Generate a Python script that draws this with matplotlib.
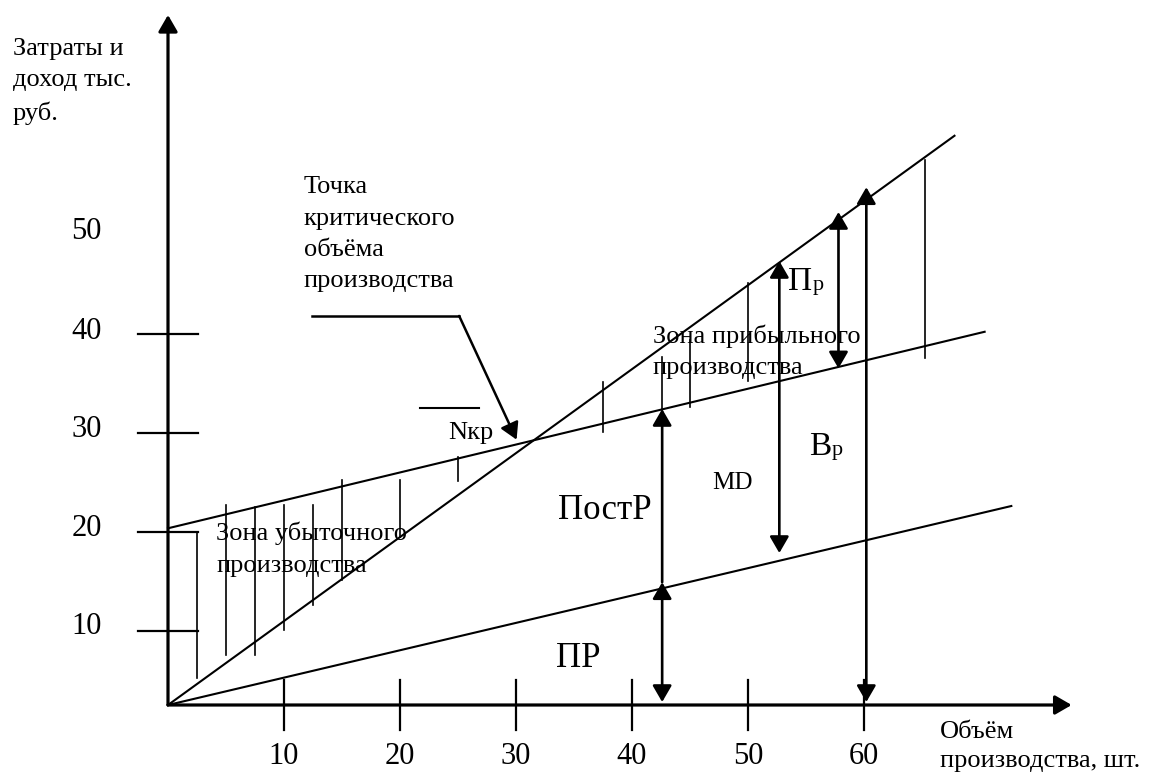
"""
Точка безубыточности: выручка, постоянные и переменные затраты
"""

import matplotlib
matplotlib.use('Agg')
from matplotlib import pyplot as plt

plt.rcParams['font.family'] = ['Liberation Serif', 'DejaVu Serif']

# --- данные (условные единицы: x - объём, шт.; y - тыс. руб.) ---
# выручка, полные затраты, переменные затраты
rev_x = [0, 67.8]
rev_y = [0, 57.5]
tc_x = [0, 70.4]
tc_y = [17.85, 37.7]
vc_x = [0, 72.7]
vc_y = [0, 20.1]

# деления осей
x_ticks = [10, 20, 30, 40, 50, 60]
x_tick_labels = ['10', '20', '30', '40', '50', '60']
y_ticks = [7.5, 17.5, 27.5, 37.5]
y_label_pos = [7.9, 17.85, 27.8, 37.7, 47.8]
y_tick_labels = ['10', '20', '30', '40', '50']

# штриховка зоны убытков (x, низ, верх)
loss_x = [2.5, 5, 7.5, 10, 12.5, 15, 20, 25]
loss_lo = [2.7, 5.05, 5.05, 7.6, 10.1, 12.6, 17.0, 22.6]
loss_hi = [17.5, 20.2, 20.0, 20.2, 20.2, 22.7, 22.7, 25.1]

# штриховка зоны прибыли
prof_x = [37.5, 42.6, 45, 50, 65.3]
prof_lo = [27.6, 29.8, 30.1, 32.7, 35.0]
prof_hi = [32.66, 35.2, 36.9, 42.6, 55.05]

# стрелки: ПР, ПостР, Пр/MD, Вр, выручка
pr_x, pr_y = 42.6, [0.3, 12.4]
post_x, post_y = 42.6, [12.4, 29.9]
md_x, md_y = 52.7, [15.35, 44.85]
vr_x, vr_y = 57.8, [34.0, 49.8]
tot_x, tot_y = 60.2, [0.3, 52.3]

# точка критического объёма (выноска)
lead_x = [12.4, 25.1, 30.05]
lead_y = [39.3, 39.3, 26.8]

fig = plt.figure(figsize=(11.49, 7.73), dpi=100)
ax = fig.add_axes([0, 0, 1, 1])
ax.set_xlim(-168 / 11.6, (1149 - 168) / 11.6)
ax.set_ylim((705 - 773) / 9.9, 705 / 9.9)
ax.axis('off')

def arrow(x0, y0, x1, y1, style='-|>', lw=1.9):
    ax.annotate('', xy=(x1, y1), xytext=(x0, y0),
                arrowprops=dict(arrowstyle=style + ',head_length=1.0,head_width=0.58',
                                mutation_scale=10, lw=lw, color='black',
                                shrinkA=0, shrinkB=0))

# оси
arrow(0, 0, 0, 69.7, lw=2.3)
arrow(0, 0, 77.9, 0, lw=2.3)
for t in x_ticks:
    ax.plot([t, t], [-2.5, 2.5], color='black', lw=1.6)
for t, lab in zip(x_ticks, x_tick_labels):
    ax.text(t, -5.22, lab, ha='center', va='center', fontsize=22)
for t in y_ticks:
    ax.plot([-2.6, 2.56], [t, t], color='black', lw=1.6)
for p, lab in zip(y_label_pos, y_tick_labels):
    ax.text(-7.0, p, lab, ha='center', va='center', fontsize=22)

# линии
ax.plot(rev_x, rev_y, color='black', lw=1.5)
ax.plot(tc_x, tc_y, color='black', lw=1.5)
ax.plot(vc_x, vc_y, color='black', lw=1.5)

# штриховка
for x, lo, hi in zip(loss_x, loss_lo, loss_hi):
    ax.plot([x, x], [lo, hi], color='black', lw=1.2)
for x, lo, hi in zip(prof_x, prof_lo, prof_hi):
    ax.plot([x, x], [lo, hi], color='black', lw=1.2)

# стрелки показателей
arrow(pr_x, pr_y[0], pr_x, pr_y[1], '<|-|>')
arrow(post_x, post_y[0], post_x, post_y[1])
arrow(md_x, md_y[0], md_x, md_y[1], '<|-|>')
arrow(vr_x, vr_y[0], vr_x, vr_y[1], '<|-|>')
arrow(tot_x, tot_y[0], tot_x, tot_y[1], '<|-|>')

# выноска
ax.plot(lead_x[:2], lead_y[:2], color='black', lw=1.8)
arrow(lead_x[1], lead_y[1], lead_x[2], lead_y[2], lw=1.8)
ax.plot([21.7, 26.8], [29.95, 29.95], color='black', lw=1.5)

# подписи
ax.text(-13.4, 67.4, 'Затраты и\nдоход тыс.\nруб.', ha='left', va='top',
        fontsize=19, linespacing=1.55)
ax.text(11.7, 53.4, 'Точка\nкритического\nобъёма\nпроизводства', ha='left',
        va='top', fontsize=19, linespacing=1.55)
ax.text(4.14, 18.5, 'Зона убыточного\nпроизводства', ha='left', va='top',
        fontsize=19, linespacing=1.55)
ax.text(41.8, 38.4, 'Зона прибыльного\nпроизводства', ha='left', va='top',
        fontsize=19, linespacing=1.5)
ax.text(26.1, 27.5, 'Nкр', ha='center', va='center', fontsize=19)
ax.text(41.7, 19.6, 'ПостР', ha='right', va='center', fontsize=25)
ax.text(35.4, 4.65, 'ПР', ha='center', va='center', fontsize=25)
ax.text(48.7, 22.4, 'MD', ha='center', va='center', fontsize=18)
ax.text(55.3, 25.25, 'В', ha='left', va='baseline', fontsize=24)
ax.text(57.2, 25.25, 'р', ha='left', va='baseline', fontsize=16)
ax.text(53.45, 41.9, 'П', ha='left', va='baseline', fontsize=24)
ax.text(55.55, 41.9, 'р', ha='left', va='baseline', fontsize=16)
ax.text(66.55, -1.6, 'Объём\nпроизводства, шт.', ha='left', va='top',
        fontsize=19, linespacing=1.4)

fig.savefig('out.png', dpi=100)
